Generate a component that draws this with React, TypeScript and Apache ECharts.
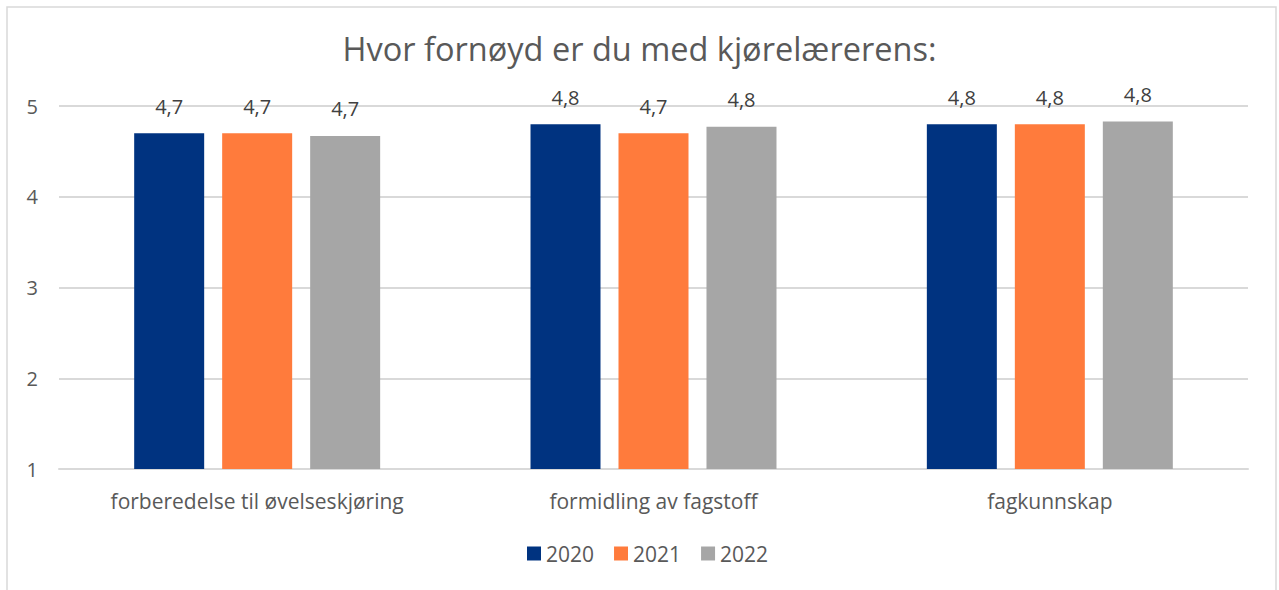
import React, { useEffect, useRef } from "react";
import * as echarts from "echarts";

const categories = ["forberedelse til øvelseskjøring", "formidling av fagstoff", "fagkunnskap"];
const seriesNames = ["2020", "2021", "2022"];
const values2020 = [4.7, 4.8, 4.8];
const values2021 = [4.7, 4.7, 4.8];
const values2022 = [4.67, 4.77, 4.83];
const colors = ["#003380", "#FF7B3C", "#A6A6A6"];
const titleText = "Hvor fornøyd er du med kjørelærerens:";

export default function App() {
  const ref = useRef<HTMLDivElement>(null);
  useEffect(() => {
    document.body.style.margin = "0";
    const chart = echarts.init(ref.current!, null, { renderer: "svg" });
    const font = "'Open Sans', Lato, sans-serif";
    const all = [values2020, values2021, values2022];
    chart.setOption({
      animation: false,
      backgroundColor: "#ffffff",
      title: {
        text: titleText,
        left: "center",
        top: 27,
        textStyle: { fontFamily: font, fontSize: 32.5, fontWeight: "normal", color: "#595959" },
      },
      graphic: [
        {
          type: "rect",
          shape: { x: 7, y: 7, width: 1269, height: 600 },
          style: { fill: "none", stroke: "#d9d9d9", lineWidth: 1.5 },
          silent: true,
        },
      ],
      legend: {
        bottom: 21,
        left: 522,
        itemWidth: 14,
        itemHeight: 14,
        itemGap: 20,
        icon: "rect",
        textStyle: { fontFamily: font, fontSize: 21, color: "#595959" },
        data: seriesNames,
      },
      grid: { left: 59, right: 31, top: 106, bottom: 121 },
      xAxis: {
        type: "category",
        data: categories,
        axisLine: { show: true, lineStyle: { color: "#d9d9d9", width: 2 } },
        axisTick: { show: false },
        axisLabel: { fontFamily: font, fontSize: 21, color: "#595959", margin: 21 },
      },
      yAxis: {
        type: "value",
        min: 1,
        max: 5,
        interval: 1,
        axisLine: { show: false },
        axisTick: { show: false },
        splitLine: { lineStyle: { color: "#d9d9d9", width: 2 } },
        axisLabel: { fontFamily: font, fontSize: 20, color: "#595959", margin: 21 },
      },
      series: seriesNames.map((name, i) => ({
        name,
        type: "bar",
        data: all[i],
        barWidth: 70,
        barGap: "25.7%",
        itemStyle: { color: colors[i] },
        label: {
          show: true,
          position: "top",
          distance: 17,
          fontFamily: font,
          fontSize: 20,
          color: "#404040",
          formatter: (p: any) => Number(p.value).toFixed(1).replace(".", ","),
        },
      })),
    });
    return () => chart.dispose();
  }, []);
  return <div ref={ref} style={{ width: 1279, height: 590, position: "absolute", left: 0, top: 0 }} />;
}
